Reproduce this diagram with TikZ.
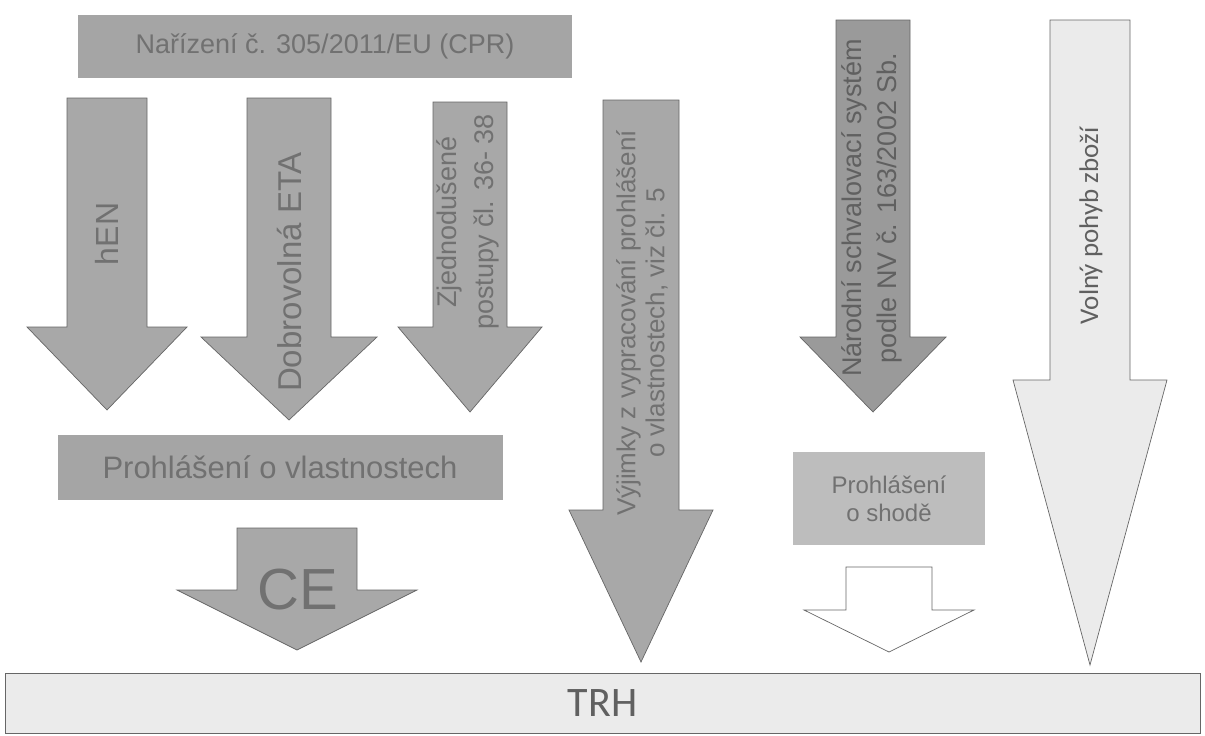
\documentclass[tikz,border=0pt]{standalone}
\usepackage{fontspec}
\setmainfont{Liberation Sans}
\newfontfamily\calfont{Carlito}

\definecolor{arrowfill}{HTML}{A8A8A8}
\definecolor{darkfill}{HTML}{9A9A9A}
\definecolor{barfill}{HTML}{A5A5A5}
\definecolor{boxfill}{HTML}{BDBDBD}
\definecolor{palefill}{HTML}{EBEBEB}
\definecolor{edgegray}{HTML}{666666}
\definecolor{labelgray}{HTML}{717171}
\definecolor{darklabel}{HTML}{606060}

\newcommand{\setfs}[2]{\fontsize{#1}{#2}\selectfont}
% [options]{centre x}{half shaft}{top}{wing y}{half wing}{tip y}
\newcommand{\blockarrow}[7][]{%
  \draw[blockarrow,#1] ({#2-#3},#4) -- ({#2+#3},#4) -- ({#2+#3},#5)
    -- ({#2+#6},#5) -- (#2,#7) -- ({#2-#6},#5) -- ({#2-#3},#5) -- cycle;}

\tikzset{
  blockarrow/.style={fill=arrowfill, draw=edgegray, line width=0.7pt},
  lbl/.style={text=labelgray, inner sep=0pt},
  sidetext/.style={lbl, rotate=90, align=center},
  barbox/.style={fill=barfill, draw=none, lbl},
}

\begin{document}
\begin{tikzpicture}[x=1pt, y=-1pt]
  \useasboundingbox (0,0) rectangle (1205,736);

  % top regulation bar
  \node[barbox, minimum width=494, minimum height=63, font=\setfs{27}{30}] (cpr) at (325,46.5)
    {Nařízení č. 305/2011/EU (CPR)};

  % routes under the regulation
  \blockarrow{107}{40}{98}{327}{80}{410}
  \node[sidetext, font=\setfs{32}{36}] (hen) at (107,234) {hEN};

  \blockarrow{289}{42}{98}{337}{88}{420}
  \node[sidetext, font=\setfs{33}{36}] (eta) at (290,272) {Dobrovolná ETA};

  \blockarrow{470}{37}{102}{327}{72}{412}
  \node[sidetext, font=\setfs{27}{37}] (zjed) at (468,222)
    {Zjednodušené\\postupy čl. 36- 38};

  \blockarrow{641}{38}{100}{510}{72}{662}
  \node[sidetext, font=\setfs{26}{29}] (vyj) at (642,323)
    {Výjimky z vypracování prohlášení\\o vlastnostech, viz čl. 5};

  % national route
  \blockarrow[fill=darkfill]{873}{37}{20}{337}{73}{412}
  \node[sidetext, text=darklabel, font=\setfs{27}{35}] (nar) at (872,208)
    {Národní schvalovací systém\\podle NV č. 163/2002 Sb.};

  \blockarrow[fill=palefill]{1090}{40}{20}{380}{77}{665}
  \node[sidetext, text=darklabel, font=\calfont\setfs{27}{30}] (volny) at (1091,226)
    {Volný pohyb zboží};

  % declarations
  \node[barbox, minimum width=445, minimum height=65, font=\setfs{31}{34}] (dop) at (280,467.5)
    {Prohlášení o vlastnostech};

  \blockarrow{297}{60}{528}{590}{120}{650}
  \node[lbl, font=\setfs{58}{60}] (ce) at (298,590) {CE};

  \node[barbox, fill=boxfill, minimum width=192, minimum height=93, align=center,
    font=\setfs{24}{28}] (shoda) at (889,498.5) {Prohlášení\\o shodě};

  \blockarrow[fill=white]{889}{43}{567}{610}{85}{652}

  % market
  \node[fill=palefill, draw=edgegray, line width=0.6pt, minimum width=1195, minimum height=60,
    text=darklabel, font=\calfont\setfs{42}{44}] (trh) at (602.5,703) {TRH};
\end{tikzpicture}
\end{document}
